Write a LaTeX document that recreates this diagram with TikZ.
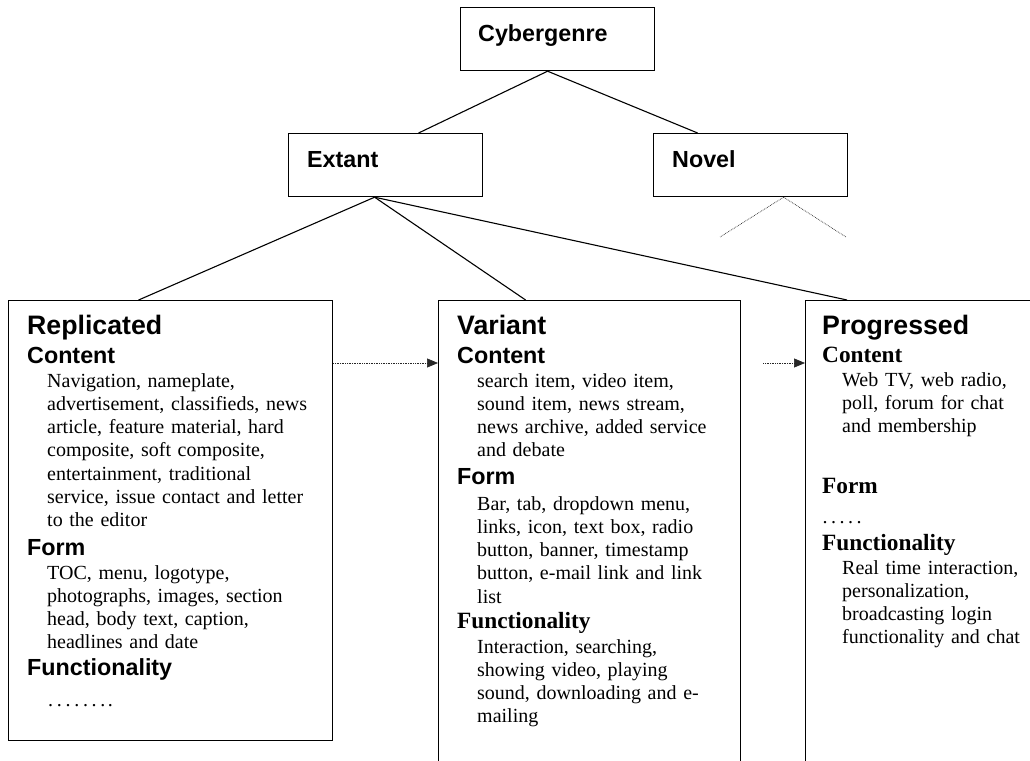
\documentclass[tikz,border=0pt]{standalone}
\usepackage{fontspec}
\setmainfont{Liberation Serif}
\newfontfamily\arialf{Liberation Sans}
\usetikzlibrary{arrows.meta,calc}
\tikzset{
  box/.style={draw, line width=1.2pt, rectangle, inner sep=0pt, anchor=north west},
  conn/.style={line width=1.1pt},
  dotl/.style={densely dotted, line width=0.7pt, black!85},
  tip/.style={-{Triangle[length=11pt,width=9pt]}},
  boxlabel/.style={anchor=base west, inner sep=0pt, font=\arialf\bfseries\fontsize{23.3}{27}\selectfont},
  htitle/.style={anchor=base west, inner sep=0pt, font=\arialf\bfseries\fontsize{26.7}{30}\selectfont},
  hsub/.style={anchor=base west, inner sep=0pt, font=\arialf\bfseries\fontsize{23.3}{27}\selectfont},
  hsubserif/.style={anchor=base west, inner sep=0pt, font=\bfseries\fontsize{23.3}{27}\selectfont},
  body/.style={anchor=base west, inner sep=0pt, text width=285pt, align=left, font=\fontsize{20}{23.3}\selectfont},
}
\begin{document}
\begin{tikzpicture}[x=1pt,y=-1pt]
\clip (0,0) rectangle (1030,760);
\fill[white] (0,0) rectangle (1030,760);

% top boxes
\node[box, minimum width=194pt, minimum height=63pt] (cyber) at (460,7) {};
\node[boxlabel] (cybert) at (478,42) {Cybergenre};
\node[box, minimum width=194pt, minimum height=63pt] (extant) at (288,133) {};
\node[boxlabel] (extantt) at (307,167) {Extant};
\node[box, minimum width=194pt, minimum height=63pt] (novel) at (653,133) {};
\node[boxlabel] (novelt) at (672,167) {Novel};

% lower boxes
\node[box, minimum width=324pt, minimum height=440pt] (repl) at (8,300) {};
\node[box, minimum width=302pt, minimum height=500pt] (var) at (438,300) {};
\node[box, minimum width=260pt, minimum height=500pt] (prog) at (805,300) {};

% connectors
\draw[conn] ($(cyber.south)+(-10,0)$) -- ($(extant.north)+(33,0)$);
\draw[conn] ($(cyber.south)+(-10,0)$) -- ($(novel.north)+(-53,0)$);
\draw[conn] ($(extant.south)+(-11,0)$) -- ($(repl.north)+(-32,0)$);
\draw[conn] ($(extant.south)+(-11,0)$) -- ($(var.north)+(-64,0)$);
\draw[conn] ($(extant.south)+(-11,0)$) -- ($(prog.north west)+(42,0)$);

\coordinate (nl) at (720,237);
\coordinate (nr) at (846,237);
\draw[dotl] ($(novel.south)+(33,0)$) -- (nl);
\draw[dotl] ($(novel.south)+(33,0)$) -- (nr);

\draw[dotl, tip] ($(repl.north east)+(0,63)$) -- ($(var.north west)+(0,63)$);
\draw[dotl, tip] ($(var.north east)+(22,63)$) -- ($(prog.north west)+(0,63)$);

% Replicated
\node[htitle] (rt) at (27,334) {Replicated};
\node[hsub] (rc) at (27,363) {Content};
\node[body] (rcb) at (47,387) {Navigation, nameplate,\\advertisement, classifieds, news\\article, feature material, hard\\composite, soft composite,\\entertainment, traditional\\service, issue contact and letter\\to the editor};
\node[hsub] (rf) at (27,555) {Form};
\node[body] (rfb) at (47,579) {TOC, menu, logotype,\\photographs, images, section\\head, body text, caption,\\headlines and date};
\node[hsub] (rfu) at (27,675) {Functionality};
\node[body] (rfub) at (48,706) {.\kern3.7pt.\kern3.7pt.\kern3.7pt.\kern3.7pt.\kern3.7pt.\kern3.7pt.\kern2.4pt.};

% Variant
\node[htitle] (vt) at (457,334) {Variant};
\node[hsub] (vc) at (457,363) {Content};
\node[body] (vcb) at (477,387) {search item, video item,\\sound item, news stream,\\news archive, added service\\and debate};
\node[hsub] (vf) at (457,484) {Form};
\node[body] (vfb) at (477,510) {Bar, tab, dropdown menu,\\links, icon, text box, radio\\button, banner, timestamp\\button, e-mail link and link\\list};
\node[hsubserif] (vfu) at (457,628) {Functionality};
\node[body] (vfub) at (477,653) {Interaction, searching,\\showing video, playing\\sound, downloading and e-\\mailing};

% Progressed
\node[htitle] (pt) at (822,334) {Progressed};
\node[hsubserif] (pc) at (822,362) {Content};
\node[body] (pcb) at (842,386) {Web TV, web radio,\\poll, forum for chat\\and membership};
\node[hsubserif] (pf) at (822,493) {Form};
\node[body] (pfb) at (822.5,523) {.\kern3.5pt.\kern3.5pt.\kern3.5pt.\kern3.5pt.};
\node[hsubserif] (pfu) at (822,550) {Functionality};
\node[body] (pfub) at (842,574) {Real time interaction,\\personalization,\\broadcasting login\\functionality and chat};
\end{tikzpicture}
\end{document}
